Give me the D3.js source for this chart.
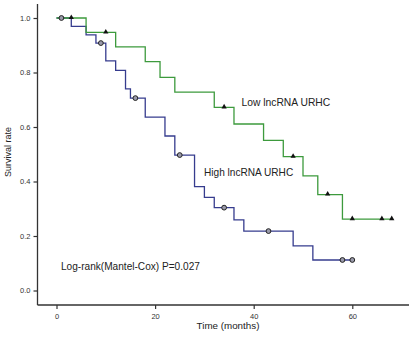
<!DOCTYPE html>
<html><head><meta charset="utf-8">
<script src="https://cdn.jsdelivr.net/npm/d3@7"></script>
<style>body{margin:0;background:#fff}svg{display:block}</style>
</head><body>
<svg id="c" width="414" height="337"></svg>
<script>
// Data (time in months, survival rate)
const lowSteps = [[0,1.0],[6,0.947],[12,0.894],[18,0.840],[21,0.782],[24,0.728],[32,0.672],[36,0.611],[42,0.551],[46,0.491],[50,0.421],[53,0.352],[58,0.262]];
const lowEnd = 68;
const lowCensored = [[3,1.0],[10,0.947],[34,0.672],[48,0.491],[55,0.352],[60,0.262],[66,0.262],[68,0.262]];
const highSteps = [[0,1.0],[3,0.969],[6,0.938],[8,0.908],[10,0.843],[12,0.808],[14,0.740],[15,0.706],[18,0.636],[22,0.567],[24,0.497],[28,0.381],[30,0.342],[32,0.304],[36,0.259],[38,0.218],[48,0.164],[52,0.112]];
const highEnd = 60;
const highCensored = [[1,1.0],[9,0.908],[16,0.706],[25,0.497],[34,0.304],[43,0.218],[58,0.112],[60,0.112]];
const xTicks = [0,20,40,60];
const yTicks = [0.0,0.2,0.4,0.6,0.8,1.0];
const labels = {low:"Low lncRNA URHC", high:"High lncRNA URHC", stat:"Log-rank(Mantel-Cox) P=0.027", x:"Time (months)", y:"Survival rate"};

const svg = d3.select("#c");
const x = d3.scaleLinear().domain([0,60]).range([56.5,352.3]);
const y = d3.scaleLinear().domain([0,1]).range([290.5,18]);
const axisX = 37.5, axisY = 305;

const green = "#3d9a3d", blue = "#363c8e";

// axes
const gx = svg.append("g").attr("transform",`translate(0,${axisY})`)
  .call(d3.axisBottom(x).tickValues(xTicks).tickSize(4).tickFormat(d3.format("d")));
gx.select(".domain").remove();
svg.append("line").attr("x1",axisX).attr("x2",409).attr("y1",axisY).attr("y2",axisY).attr("stroke","#333").attr("stroke-width",1.3);
const gy = svg.append("g").attr("transform",`translate(${axisX},0)`)
  .call(d3.axisLeft(y).tickValues(yTicks).tickSize(4).tickFormat(d3.format(".1f")));
gy.select(".domain").remove();
svg.append("line").attr("x1",axisX).attr("x2",axisX).attr("y1",4).attr("y2",axisY).attr("stroke","#333").attr("stroke-width",1.3);
svg.selectAll(".tick line").attr("stroke","#333").attr("stroke-width",1.2);
svg.selectAll(".tick text").attr("font-family","Liberation Sans, Arial, sans-serif").attr("font-size",7.5).attr("fill","#333");
gx.selectAll(".tick text").attr("dy","0.9em");

function stepPath(steps, end){
  const pts = steps.slice(); pts.push([end, steps[steps.length-1][1]]);
  return d3.line().x(d=>x(d[0])).y(d=>y(d[1])).curve(d3.curveStepAfter)(pts);
}
svg.append("path").attr("d",stepPath(highSteps,highEnd)).attr("fill","none").attr("stroke",blue).attr("stroke-width",1.3);
svg.append("path").attr("d",stepPath(lowSteps,lowEnd)).attr("fill","none").attr("stroke",green).attr("stroke-width",1.3);

svg.selectAll(".hc").data(highCensored).enter().append("circle")
  .attr("cx",d=>x(d[0])).attr("cy",d=>y(d[1])).attr("r",2.4)
  .attr("fill","#9a9aaa").attr("stroke","#222").attr("stroke-width",1);
const tri = d3.symbol().type(d3.symbolTriangle).size(12);
svg.selectAll(".lc").data(lowCensored).enter().append("path")
  .attr("d",tri).attr("transform",d=>`translate(${x(d[0])},${y(d[1])-0.5})`)
  .attr("fill","#111");

const ff = "Liberation Sans, Arial, sans-serif";
svg.append("text").attr("x",241.5).attr("y",106).text(labels.low).attr("font-family",ff).attr("font-size",10.3).attr("fill","#222");
svg.append("text").attr("x",204).attr("y",176).text(labels.high).attr("font-family",ff).attr("font-size",10.1).attr("fill","#222");
svg.append("text").attr("x",61).attr("y",270).text(labels.stat).attr("font-family",ff).attr("font-size",10.1).attr("fill","#222");
svg.append("text").attr("x",228).attr("y",329).attr("text-anchor","middle").text(labels.x).attr("font-family",ff).attr("font-size",9.8).attr("fill","#222");
svg.append("text").attr("transform","translate(11,152) rotate(-90)").attr("text-anchor","middle").text(labels.y).attr("font-family",ff).attr("font-size",9).attr("fill","#222");
</script>
</body></html>
